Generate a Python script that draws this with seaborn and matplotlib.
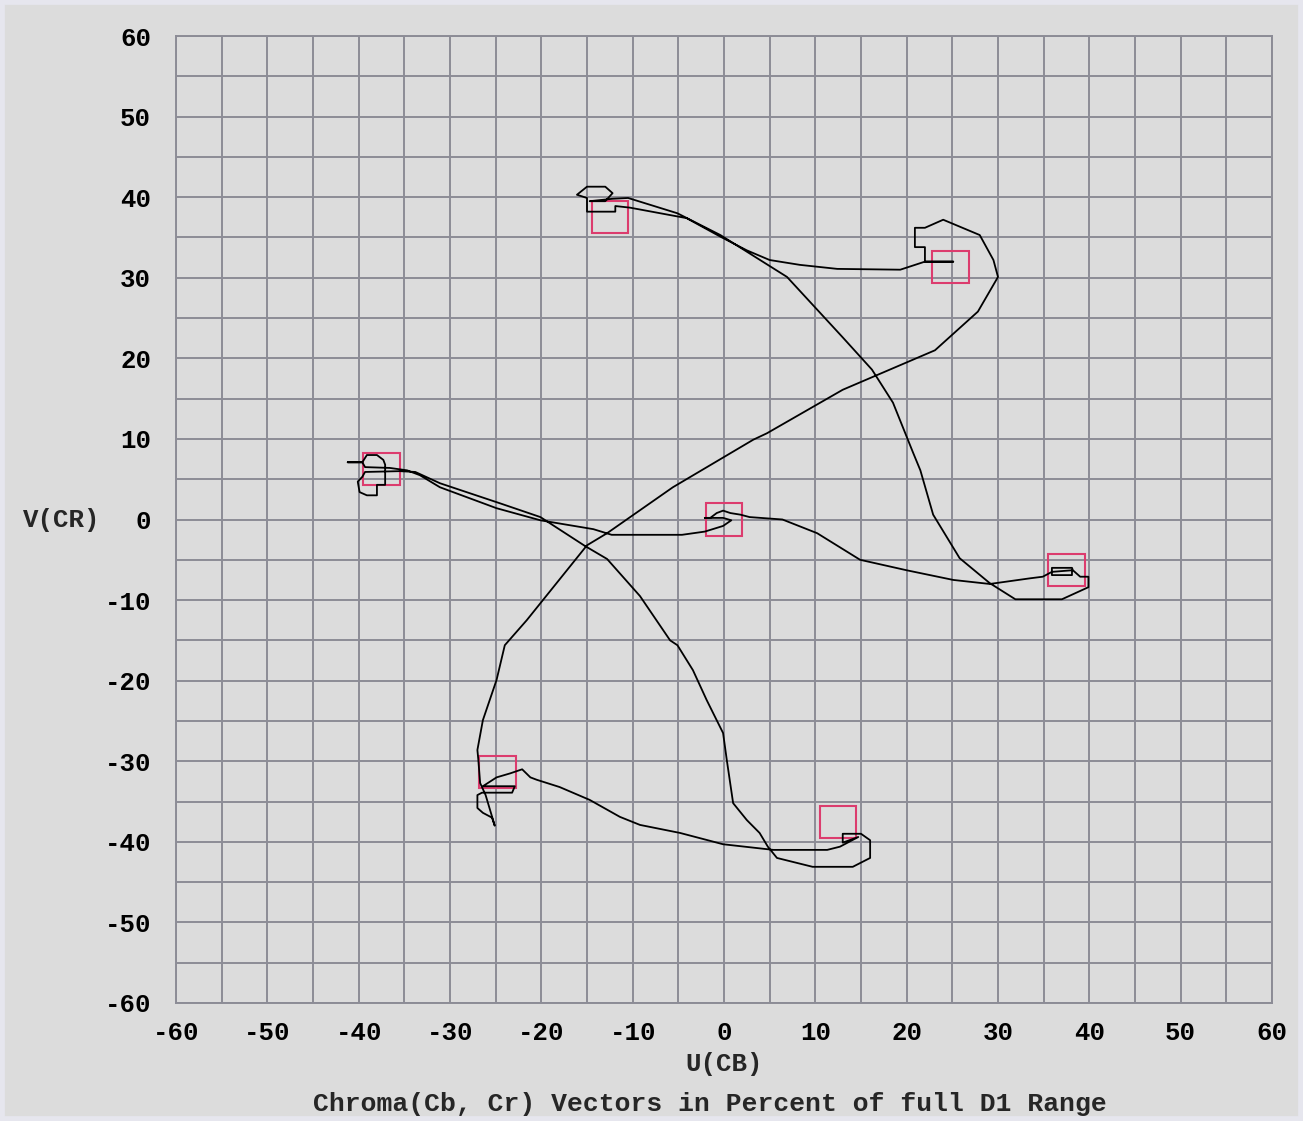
"""
Chroma vectorscope trace (Cb, Cr) in percent of full D1 range
"""

import numpy as np
import pandas as pd
import seaborn as sns
import matplotlib
matplotlib.use("Agg")
import matplotlib.pyplot as plt
from matplotlib.patches import Rectangle

# trace of the colour bar signal, in order (U = Cb %, V = Cr %)
trace_u = [
    -2.1, -0.1, 0.8, -0.1, -2.1, -4.6, -12.3, -14.3, -20.1, -24.9, -31.1, -33.3, -34.7,
    -36.6, -39.3, -39.6, -41.2, -39.6, -39.1, -38.0, -37.3, -37.1, -37.1, -38.0, -38.0,
    -39.1, -39.9, -40.1, -39.6, -39.3, -35.5, -33.8,
    -31.1, -24.5, -20.1, -15.2, -12.8, -9.2, -5.9, -5.1, -3.4, -1.9, -0.1, 0.3, 1.0,
    2.5, 3.9, 4.8, 5.8, 9.7, 14.1, 16.0, 16.0, 15.0,
    13.0, 13.0, 14.7, 12.7, 11.3,
    5.4, -0.1, -4.8, -9.2, -11.4, -14.7, -18.0, -20.5, -21.2, -22.1,
    -23.4, -24.9, -26.4, -22.9, -23.2, -26.5, -27.0, -27.0, -26.4, -25.4, -25.1, -26.1,
    -26.7, -26.9, -27.0,
    -26.4, -24.9, -24.0, -21.6, -15.0, -12.8, -5.6, 3.2, 4.7, 13.0, 23.1, 27.8, 30.0,
    29.5, 28.0, 24.0, 22.0, 20.9, 20.9, 22.0, 22.0, 25.1, 22.0,
    19.3, 12.4, 8.3, 5.0, 2.5, -0.4, -4.1, -10.3,
    -11.9, -11.9, -15.0, -15.0, -16.1, -15.0, -13.0, -12.2, -13.0, -14.7, -12.2, -10.5,
    -5.1, -0.4, 6.9, 13.0, 16.2, 18.5, 20.7, 21.5, 22.9, 25.8, 29.1, 31.9, 37.0, 39.9,
    39.9, 39.0, 38.2,
    38.1, 35.9, 35.9, 38.1, 38.1, 35.9, 34.9, 33.5,
    29.1, 25.1, 20.0, 14.9, 10.2, 6.4, 2.8, 1.8, 0.7, -0.1, -0.8, -1.5, -2.1,
]
trace_v = [
    0.2, 0.2, -0.1, -0.8, -1.5, -1.9, -1.9, -1.2, -0.1, 1.4, 4.0, 5.5, 6.1,
    6.4, 6.5, 7.1, 7.1, 7.1, 8.0, 8.0, 7.4, 6.8, 4.3, 4.3, 3.0,
    3.0, 3.4, 4.7, 5.3, 5.9, 6.0, 5.9,
    4.5, 2.0, 0.3, -3.3, -4.9, -9.5, -15.0, -15.6, -18.7, -22.4, -26.5, -29.8, -35.2,
    -37.3, -38.9, -40.6, -42.0, -43.1, -43.1, -42.0, -39.8, -39.0,
    -39.0, -40.1, -39.4, -40.6, -41.0,
    -41.0, -40.3, -38.9, -37.9, -36.9, -34.8, -33.2, -32.3, -32.0, -31.0,
    -31.5, -32.0, -33.1, -33.1, -33.9, -33.9, -34.2, -35.8, -36.4, -37.0, -38.0, -34.2,
    -32.7, -29.8, -28.6,
    -24.9, -19.9, -15.6, -12.5, -3.2, -1.7, 4.0, 9.9, 10.7, 16.1, 21.0, 25.8, 30.1,
    32.2, 35.3, 37.2, 36.2, 36.2, 33.8, 33.8, 32.0, 32.0, 32.0,
    31.0, 31.1, 31.6, 32.2, 33.4, 35.1, 37.4, 38.7,
    38.9, 38.2, 38.2, 39.9, 40.3, 41.3, 41.3, 40.5, 39.5, 39.5, 39.8, 39.9,
    38.0, 35.3, 30.1, 22.6, 18.6, 14.5, 8.3, 6.1, 0.6, -4.8, -7.9, -9.9, -9.9, -8.4,
    -7.1, -7.1, -6.3,
    -6.0, -6.0, -6.9, -6.9, -6.3, -6.5, -7.1, -7.3,
    -8.0, -7.5, -6.3, -5.0, -1.7, 0.0, 0.3, 0.6, 0.8, 1.1, 0.8, 0.2, 0.2,
]

# target boxes of the colour bars
target_u = [-12.5, 24.8, -37.5, 0.0, 37.5, -24.8, 12.5]
target_v = [37.5, 31.3, 6.3, 0.0, -6.3, -31.3, -37.5]

BOX = 4.0
BG = "#dcdcdc"
GRID = "#8c8c96"

sns.set_style("whitegrid", {"axes.facecolor": BG, "figure.facecolor": BG,
                            "grid.color": GRID, "axes.edgecolor": GRID})
plt.rcParams["font.family"] = ["Liberation Mono", "DejaVu Sans Mono"]
plt.rcParams["axes.unicode_minus"] = False

fig = plt.figure(figsize=(13.03, 11.21), dpi=100)
fig.patch.set_facecolor(BG)
fig.patches.append(Rectangle((0, 0), 1, 1, transform=fig.transFigure, fill=False,
                             edgecolor="#e6e6ee", linewidth=7))
ax = fig.add_axes([176 / 1303, 1 - 1003 / 1121, 1096 / 1303, 967 / 1121])

df = pd.DataFrame({"u": trace_u, "v": trace_v})
sns.lineplot(data=df, x="u", y="v", sort=False, estimator=None, color="black",
             linewidth=1.3, ax=ax, zorder=3)

for tu, tv in zip(target_u, target_v):
    ax.add_patch(Rectangle((tu - BOX / 2, tv - BOX / 2), BOX, BOX, fill=False,
                           edgecolor="#dc3c6e", linewidth=1.5, zorder=2))

ax.set_xlim(-60, 60)
ax.set_ylim(-60, 60)
ax.set_xticks(np.arange(-60, 61, 10))
ax.set_yticks(np.arange(-60, 61, 10))
ax.set_xticks(np.arange(-55, 60, 10), minor=True)
ax.set_yticks(np.arange(-55, 60, 10), minor=True)
ax.grid(True, which="both", color=GRID, linewidth=1.4)
ax.set_axisbelow(True)
for s in ax.spines.values():
    s.set_color(GRID)
    s.set_linewidth(1.4)
ax.tick_params(which="both", length=0, labelsize=18.5, colors="black")
ax.tick_params(axis="x", pad=13)
ax.tick_params(axis="y", pad=18)
for lab in ax.get_xticklabels() + ax.get_yticklabels():
    lab.set_fontweight("bold")

ax.set_xlabel("U(CB)", fontsize=18.5, fontweight="bold", labelpad=5)
ax.set_ylabel("V(CR)", fontsize=18.5, fontweight="bold", rotation=0, labelpad=31,
              va="center")
fig.text(0.545, 1 - 1104 / 1121, "Chroma(Cb, Cr) Vectors in Percent of full D1 Range",
         ha="center", va="center", fontsize=19, fontweight="bold")

fig.savefig("out.png", dpi=100, facecolor=BG)
